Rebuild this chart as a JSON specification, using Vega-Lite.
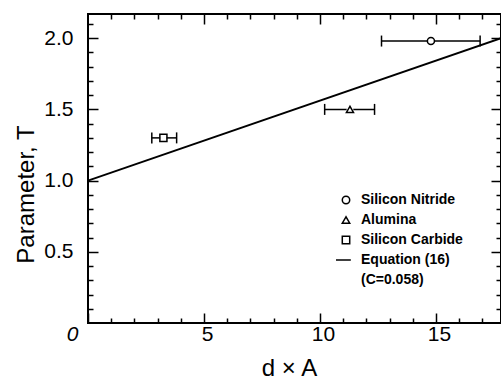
{
  "$schema": "https://vega.github.io/schema/vega-lite/v6.json",
  "width": 413,
  "height": 309,
  "autosize": {"type": "none"},
  "padding": {"left": 88, "top": 14, "right": 0, "bottom": 56},
  "background": "white",
  "config": {
    "view": {"stroke": "black", "strokeWidth": 2},
    "font": "Liberation Sans",
    "axis": {
      "domain": false,
      "grid": false,
      "zindex": 1,
      "labelFlush": false,
      "ticks": true,
      "tickColor": "black",
      "tickWidth": 1.5,
      "labelColor": "black",
      "titleColor": "black",
      "labelFont": "Liberation Sans",
      "labelFontSize": 21,
      "titleFont": "Liberation Sans",
      "titleFontSize": 24,
      "titleFontWeight": "normal"
    },
    "legend": {
      "orient": "none",
      "legendX": 251,
      "legendY": 179,
      "padding": 0,
      "title": null,
      "labelFont": "Liberation Sans",
      "labelFontWeight": "bold",
      "labelFontSize": 14,
      "labelColor": "black",
      "labelOffset": 8,
      "rowPadding": 6,
      "symbolSize": 55,
      "symbolStrokeColor": "black",
      "symbolStrokeWidth": 1.5
    }
  },
  "datasets": {
    "measured": [
      {"material": "Silicon Nitride", "dA": 14.78, "T": 1.98, "dA_lo": 12.65, "dA_hi": 16.9},
      {"material": "Alumina", "dA": 11.29, "T": 1.5, "dA_lo": 10.2, "dA_hi": 12.35},
      {"material": "Silicon Carbide", "dA": 3.25, "T": 1.3, "dA_lo": 2.75, "dA_hi": 3.82}
    ],
    "equation": [
      {"dA": 0, "T": 1.0},
      {"dA": 17.8, "T": 2.0}
    ]
  },
  "resolve": {"axis": {"x": "independent", "y": "independent"}},
  "layer": [
    {
      "data": {"name": "equation"},
      "mark": {"type": "line", "color": "black", "strokeWidth": 1.8},
      "encoding": {
        "x": {
          "field": "dA", "type": "quantitative",
          "scale": {"domain": [0, 17.8], "nice": false, "zero": false},
          "axis": {
            "orient": "bottom",
            "title": "d × A",
            "values": [0, 5, 10, 15],
            "tickSize": -10,
            "labelPadding": 10,
            "labelFontStyle": {"condition": {"test": "datum.value === 0", "value": "italic"}, "value": "normal"},
            "labelOffset": {"condition": {"test": "datum.value === 0", "value": -16}, "value": 3},
            "titleX": 201,
            "titleY": 52,
            "titleAlign": "center",
            "titleBaseline": "alphabetic"
          }
        },
        "y": {
          "field": "T", "type": "quantitative",
          "scale": {"domain": [0, 2.17], "nice": false, "zero": false},
          "axis": {
            "orient": "left",
            "title": "Parameter, T",
            "values": [0.5, 1, 1.5, 2],
            "format": ".1f",
            "offset": -10,
            "tickSize": 10,
            "labelPadding": 15,
            "titleX": -65,
            "titleY": 180,
            "titleAngle": -90,
            "titleAlign": "center",
            "titleBaseline": "alphabetic"
          }
        }
      }
    },
    {
      "data": {"name": "measured"},
      "mark": {"type": "rule", "color": "black", "strokeWidth": 1.5},
      "encoding": {
        "x": {
          "field": "dA_lo", "type": "quantitative",
          "scale": {"domain": [0, 17.8], "nice": false, "zero": false},
          "axis": {"orient": "top", "title": null, "values": [5, 10, 15], "tickSize": -10, "labels": false}
        },
        "x2": {"field": "dA_hi"},
        "y": {
          "field": "T", "type": "quantitative",
          "scale": {"domain": [0, 2.17], "nice": false, "zero": false},
          "axis": {"orient": "right", "title": null, "values": [0.5, 1, 1.5, 2], "tickSize": -10, "labels": false}
        }
      }
    },
    {
      "data": {"name": "measured"},
      "mark": {"type": "point", "shape": "M0,-1V1", "filled": false, "color": "black", "strokeWidth": 1.5, "size": 121, "opacity": 1},
      "encoding": {
        "x": {
          "field": "dA_lo", "type": "quantitative",
          "scale": {"domain": [0, 17.8], "nice": false, "zero": false},
          "axis": {"orient": "bottom", "title": null, "values": [1, 2, 3, 4, 6, 7, 8, 9, 11, 12, 13, 14, 16, 17], "tickSize": -5, "labels": false}
        },
        "y": {
          "field": "T", "type": "quantitative",
          "scale": {"domain": [0, 2.17], "nice": false, "zero": false},
          "axis": {"orient": "left", "title": null, "values": [0.1, 0.2, 0.3, 0.4, 0.6, 0.7, 0.8, 0.9, 1.1, 1.2, 1.3, 1.4, 1.6, 1.7, 1.8, 1.9, 2.1], "offset": -5, "tickSize": 5, "labels": false}
        }
      }
    },
    {
      "data": {"name": "measured"},
      "mark": {"type": "point", "shape": "M0,-1V1", "filled": false, "color": "black", "strokeWidth": 1.5, "size": 121, "opacity": 1},
      "encoding": {
        "x": {
          "field": "dA_hi", "type": "quantitative",
          "scale": {"domain": [0, 17.8], "nice": false, "zero": false},
          "axis": {"orient": "top", "title": null, "values": [1, 2, 3, 4, 6, 7, 8, 9, 11, 12, 13, 14, 16, 17], "tickSize": -5, "labels": false}
        },
        "y": {
          "field": "T", "type": "quantitative",
          "scale": {"domain": [0, 2.17], "nice": false, "zero": false},
          "axis": {"orient": "right", "title": null, "values": [0.1, 0.2, 0.3, 0.4, 0.6, 0.7, 0.8, 0.9, 1.1, 1.2, 1.3, 1.4, 1.6, 1.7, 1.8, 1.9, 2.1], "tickSize": -5, "labels": false}
        }
      }
    },
    {
      "data": {"name": "measured"},
      "mark": {"type": "point", "shape": "circle", "filled": true, "color": "white", "size": 45, "opacity": 1},
      "encoding": {
        "x": {
          "field": "dA", "type": "quantitative",
          "scale": {"domain": [0, 17.8], "nice": false, "zero": false},
          "axis": null
        },
        "y": {
          "field": "T", "type": "quantitative",
          "scale": {"domain": [0, 2.17], "nice": false, "zero": false},
          "axis": null
        }
      }
    },
    {
      "data": {"name": "measured"},
      "mark": {"type": "point", "filled": false, "color": "black", "strokeWidth": 1.5, "size": 50, "opacity": 1},
      "encoding": {
        "x": {
          "field": "dA", "type": "quantitative",
          "scale": {"domain": [0, 17.8], "nice": false, "zero": false},
          "axis": null
        },
        "y": {
          "field": "T", "type": "quantitative",
          "scale": {"domain": [0, 2.17], "nice": false, "zero": false},
          "axis": null
        },
        "shape": {
          "field": "material", "type": "nominal",
          "scale": {
            "domain": ["Silicon Nitride", "Alumina", "Silicon Carbide", "Equation (16)", "(C=0.058)"],
            "range": ["circle", "triangle-up", "square", "M-2.7,0H1.3", "M0,0"]
          }
        }
      }
    }
  ]
}
